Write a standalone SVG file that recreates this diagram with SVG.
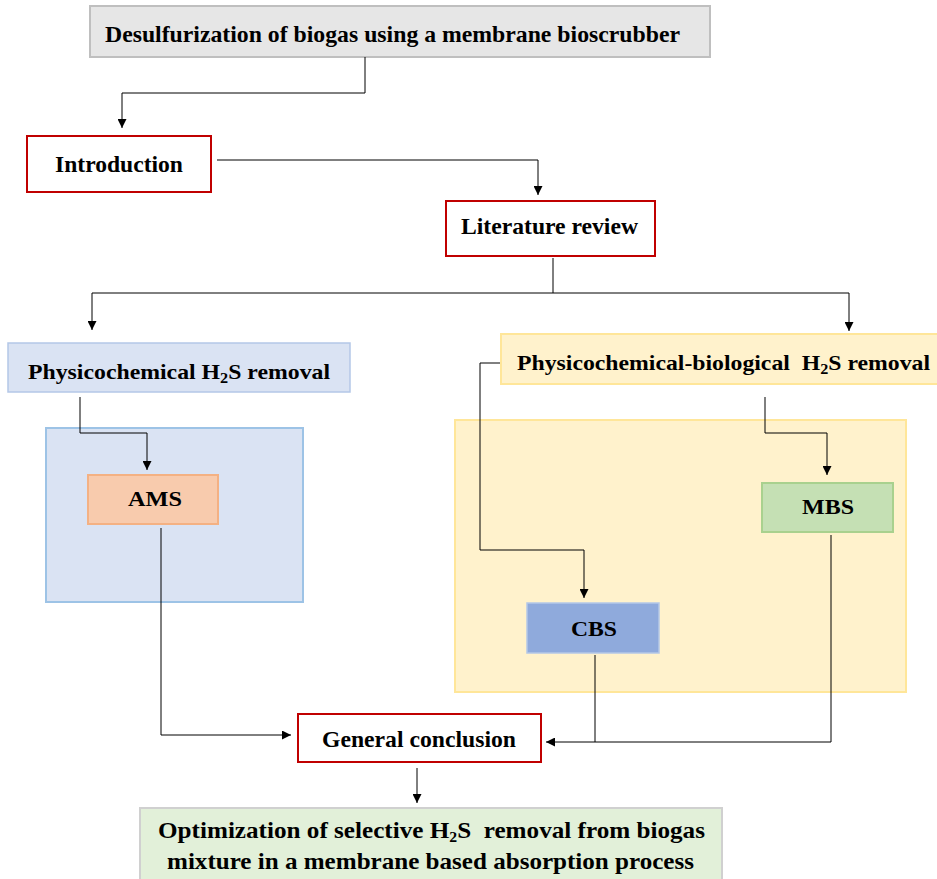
<svg xmlns="http://www.w3.org/2000/svg" width="937" height="879" viewBox="0 0 937 879">
<defs>
<style>
.t{font-family:"Liberation Serif","Times New Roman",serif;font-weight:bold;font-size:24px;fill:#000}
.m{font-size:22px}
.k{font-size:21px}
.s{font-size:15px}
.ln{fill:none;stroke:#000;stroke-width:1}
.red{fill:#fff;stroke:#c00000;stroke-width:2}
</style>
<marker id="ah" viewBox="0 0 10 10" refX="10" refY="5" markerWidth="9" markerHeight="9" markerUnits="userSpaceOnUse" orient="auto">
<path d="M0,0 L10,5 L0,10 z" fill="#000"/>
</marker>
</defs>
<rect width="937" height="879" fill="#fff"/>

<g id="containers">
<rect x="46" y="428" width="257" height="174" fill="#dae3f3" stroke="#9dc3e6" stroke-width="2"/>
<rect x="455" y="420" width="451" height="272" fill="#fff2cc" stroke="#ffe699" stroke-width="2"/>
</g>

<g id="title">
<rect x="90" y="6" width="620" height="51" fill="#e6e6e6" stroke="#bfbfbf" stroke-width="2"/>
<text class="t" x="105" y="42" textLength="575" lengthAdjust="spacingAndGlyphs">Desulfurization of biogas using a membrane bioscrubber</text>
</g>

<g id="introduction">
<rect class="red" x="27" y="136" width="184" height="56"/>
<text class="t" x="55" y="172" textLength="128" lengthAdjust="spacingAndGlyphs">Introduction</text>
</g>

<g id="literature">
<rect class="red" x="446" y="201" width="209" height="55"/>
<text class="t" x="461" y="234" textLength="177" lengthAdjust="spacingAndGlyphs">Literature review</text>
</g>

<g id="physicochemical">
<rect x="8" y="343" width="342" height="49" fill="#dae3f3" stroke="#b4c7e7" stroke-width="1.5"/>
<text class="t m" x="28" y="379" textLength="302" lengthAdjust="spacingAndGlyphs">Physicochemical H<tspan class="s" dy="4">2</tspan><tspan dy="-4">S removal</tspan></text>
</g>

<g id="physbio">
<rect x="501" y="334" width="440" height="50" fill="#fff2cc" stroke="#ffe699" stroke-width="2"/>
<text class="t m" x="517" y="370" textLength="413" lengthAdjust="spacingAndGlyphs" xml:space="preserve">Physicochemical-biological  H<tspan class="s" dy="4">2</tspan><tspan dy="-4">S removal</tspan></text>
</g>

<g id="ams">
<rect x="88" y="475" width="130" height="49" fill="#f8cbad" stroke="#f4b183" stroke-width="2"/>
<text class="t k" x="128" y="506" textLength="54" lengthAdjust="spacingAndGlyphs">AMS</text>
</g>

<g id="mbs">
<rect x="762" y="483" width="131" height="49" fill="#c5e0b4" stroke="#a9d18e" stroke-width="2"/>
<text class="t k" x="802" y="514" textLength="52" lengthAdjust="spacingAndGlyphs">MBS</text>
</g>

<g id="cbs">
<rect x="527" y="603" width="132" height="50" fill="#8faadc" stroke="#b4c7e7" stroke-width="1.5"/>
<text class="t k" x="571" y="636" textLength="46" lengthAdjust="spacingAndGlyphs">CBS</text>
</g>

<g id="conclusion">
<rect class="red" x="298" y="714" width="243" height="48"/>
<text class="t" x="322" y="747" textLength="194" lengthAdjust="spacingAndGlyphs">General conclusion</text>
</g>

<g id="optimization">
<rect x="140" y="808" width="582" height="74" fill="#e2f0d9" stroke="#d0d0d0" stroke-width="2"/>
<text class="t" x="158" y="838" textLength="547" lengthAdjust="spacingAndGlyphs" xml:space="preserve">Optimization of selective H<tspan class="s" dy="4">2</tspan><tspan dy="-4">S  removal from biogas</tspan></text>
<text class="t" x="167" y="869" textLength="527" lengthAdjust="spacingAndGlyphs">mixture in a membrane based absorption process</text>
</g>

<g id="connectors">
<path class="ln" d="M365,57 V93 H122 V128" marker-end="url(#ah)"/>
<path class="ln" d="M217,160 H538 V195" marker-end="url(#ah)"/>
<path class="ln" d="M553,258 V293"/>
<path class="ln" d="M92,293 H849"/>
<path class="ln" d="M92,293 V330" marker-end="url(#ah)"/>
<path class="ln" d="M849,293 V331" marker-end="url(#ah)"/>
<path class="ln" d="M80,397 V433 H147 V470" marker-end="url(#ah)"/>
<path class="ln" d="M500,363 H480 V550 H584 V598" marker-end="url(#ah)"/>
<path class="ln" d="M765,397 V433 H827 V475" marker-end="url(#ah)"/>
<path class="ln" d="M161,528 V735 H291" marker-end="url(#ah)"/>
<path class="ln" d="M595,655 V742"/>
<path class="ln" d="M831,535 V742 H546" marker-end="url(#ah)"/>
<path class="ln" d="M417,768 V803" marker-end="url(#ah)"/>
</g>
</svg>
